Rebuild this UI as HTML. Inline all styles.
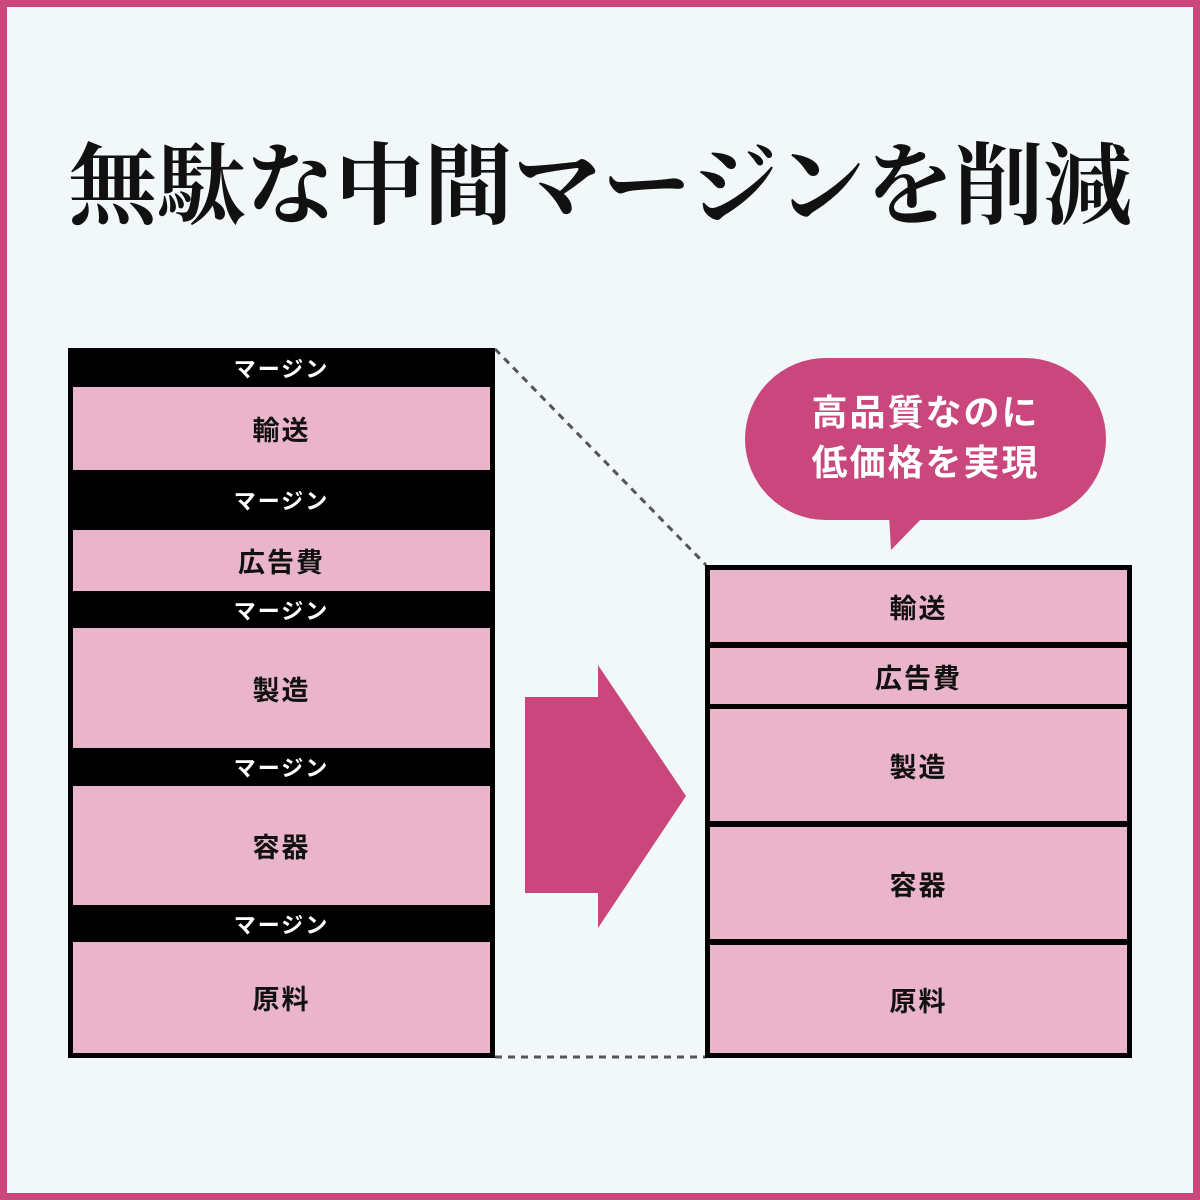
<!DOCTYPE html>
<html><head><meta charset="utf-8"><style>
html,body{margin:0;padding:0}
body{width:1200px;height:1200px;position:relative;background:#f2f8fa;overflow:hidden;font-family:"Liberation Sans","Noto Sans CJK JP",sans-serif}
.frame{position:absolute;left:0;top:0;width:1186px;height:1186px;border:7px solid #c9477c}
.t{position:absolute;left:0;width:1200px;top:123px;text-align:center;font-family:"Liberation Serif","Noto Serif CJK JP",serif;font-weight:700;font-size:89px;line-height:130px;color:#111;letter-spacing:0px}
.abs{position:absolute}
.blk{position:absolute;background:#000;color:#fff;font-weight:700;font-size:22px;text-align:center;display:flex;align-items:center;justify-content:center;letter-spacing:2px}
.pk{position:absolute;background:#eab4cb;color:#111;font-weight:700;font-size:27px;display:flex;align-items:center;justify-content:center;letter-spacing:2px}
</style></head><body>
<div class="frame"></div>
<div class="t">無駄な中間マージンを削減</div>
<svg class="abs" style="left:0;top:0" width="1200" height="1200">
<line x1="495" y1="349" x2="706" y2="565" stroke="#555" stroke-width="3" stroke-dasharray="7,6"/>
<line x1="495" y1="1057" x2="706" y2="1057" stroke="#555" stroke-width="3" stroke-dasharray="7,6"/>
<polygon points="525,697 598,697 598,665 686,796 598,928 598,893 525,893" fill="#c9477c"/>
<rect x="745" y="358" width="361" height="162" rx="81" fill="#c9477c"/>
<polygon points="889,515 925,515 891,550" fill="#c9477c"/>
</svg>
<div class="abs" style="left:745px;top:388px;width:361px;text-align:center;color:#fff;font-weight:700;font-size:36px;line-height:50px;letter-spacing:2px">高品質なのに<br>低価格を実現</div>
<div class="abs" style="left:68px;top:348px;width:427px;height:710px;background:#000"></div>
<div class="blk" style="left:68px;top:348px;width:427px;height:39px">マージン</div>
<div class="pk" style="left:73px;top:387px;width:417px;height:83px">輸送</div>
<div class="blk" style="left:68px;top:470px;width:427px;height:60px">マージン</div>
<div class="pk" style="left:73px;top:530px;width:417px;height:61px">広告費</div>
<div class="blk" style="left:68px;top:591px;width:427px;height:37px">マージン</div>
<div class="pk" style="left:73px;top:628px;width:417px;height:120px">製造</div>
<div class="blk" style="left:68px;top:748px;width:427px;height:38px">マージン</div>
<div class="pk" style="left:73px;top:786px;width:417px;height:119px">容器</div>
<div class="blk" style="left:68px;top:905px;width:427px;height:37px">マージン</div>
<div class="pk" style="left:73px;top:942px;width:417px;height:111px">原料</div>
<div class="abs" style="left:705px;top:565px;width:427px;height:493px;background:#000"></div>
<div class="pk" style="left:710px;top:570px;width:417px;height:72px">輸送</div>
<div class="pk" style="left:710px;top:648px;width:417px;height:56px">広告費</div>
<div class="pk" style="left:710px;top:709px;width:417px;height:112px">製造</div>
<div class="pk" style="left:710px;top:827px;width:417px;height:112px">容器</div>
<div class="pk" style="left:710px;top:945px;width:417px;height:108px">原料</div>
</body></html>
